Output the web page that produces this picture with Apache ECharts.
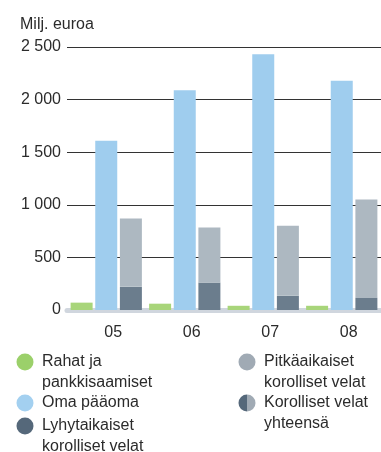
<!DOCTYPE html>
<html>
<head>
<meta charset="utf-8">
<script src="https://cdn.jsdelivr.net/npm/echarts@6/dist/echarts.min.js"></script>
<style>
  html, body { margin: 0; padding: 0; background: #fff; }
  #chart { width: 381px; height: 452px; }
</style>
</head>
<body>
<div id="chart"></div>
<script>
// Vuodet ja tase-erät, milj. euroa
const years = ['05', '06', '07', '08'];
const rahat = [70, 60, 40, 40];            // Rahat ja pankkisaamiset
const omaPaaoma = [1610, 2090, 2430, 2180]; // Oma pääoma
const lyhyt = [220, 260, 135, 115];        // Lyhytaikaiset korolliset velat
const pitka = [650, 525, 665, 935];        // Pitkäaikaiset korolliset velat
const yTicks = [0, 500, 1000, 1500, 2000, 2500];

const seriesNames = [
  'Rahat ja\npankkisaamiset',
  'Oma pääoma',
  'Lyhytaikaiset\nkorolliset velat',
  'Pitkäaikaiset\nkorolliset velat'
];
const totalName = 'Korolliset velat\nyhteensä';

const barColors = ['#a8d57a', '#9fcdee', '#6b7d8d', '#adb8c1'];
const iconColors = ['#9bd06a', '#a3d0f0', '#55687a', '#a0aab4'];
const FONT = '"Liberation Sans", Arial, sans-serif';
const TEXT = '#2b2b2b';

function fmt(v) {
  return String(v).replace(/\B(?=(\d{3})+(?!\d))/g, ' ');
}

// Legend drawn as two columns of round swatches with wrapped labels
const legendSlots = [
  { x: 25, y: 362, col: 0 },
  { x: 25, y: 403, col: 1 },
  { x: 25, y: 426, col: 2 },
  { x: 247, y: 362, col: 3 }
];
const graphic = [];
legendSlots.forEach(function (s) {
  graphic.push({
    type: 'circle',
    shape: { cx: s.x, cy: s.y, r: 8.5 },
    style: { fill: iconColors[s.col] }
  });
  graphic.push({
    type: 'text',
    x: s.x + 17, y: s.y - 10.5,
    style: {
      text: seriesNames[s.col], font: '16px ' + FONT, fill: TEXT,
      lineHeight: 21, verticalAlign: 'top', align: 'left'
    }
  });
});
graphic.push({
  type: 'sector',
  shape: { cx: 247, cy: 403, r: 8.5, startAngle: Math.PI / 2, endAngle: Math.PI * 3 / 2 },
  style: { fill: iconColors[2] }
});
graphic.push({
  type: 'sector',
  shape: { cx: 247, cy: 403, r: 8.5, startAngle: -Math.PI / 2, endAngle: Math.PI / 2 },
  style: { fill: iconColors[3] }
});
graphic.push({
  type: 'text',
  x: 264, y: 403 - 10.5,
  style: {
    text: totalName, font: '16px ' + FONT, fill: TEXT,
    lineHeight: 21, verticalAlign: 'top', align: 'left'
  }
});

const chart = echarts.init(document.getElementById('chart'), null, { renderer: 'canvas' });
chart.setOption({
  animation: false,
  textStyle: { fontFamily: FONT },
  title: {
    text: 'Milj. euroa', left: 15, top: 12,
    textStyle: { fontSize: 16, fontWeight: 'normal', color: TEXT, fontFamily: FONT }
  },
  grid: { left: 67, top: 47, width: 320, height: 263 },
  xAxis: {
    type: 'category',
    data: years,
    offset: 2.5,
    axisLine: { show: true, lineStyle: { color: '#d0d6de', width: 5 } },
    axisTick: { show: false },
    axisLabel: { fontSize: 16, color: TEXT, margin: 12, padding: [0, 0, 0, 14] }
  },
  yAxis: {
    type: 'value',
    min: yTicks[0],
    max: yTicks[yTicks.length - 1],
    interval: yTicks[1] - yTicks[0],
    axisLine: { show: false },
    axisTick: { show: false },
    axisLabel: { fontSize: 16, color: TEXT, margin: 6, formatter: fmt },
    splitLine: { lineStyle: { color: '#333333', width: 1 } }
  },
  graphic: graphic,
  series: [
    { name: seriesNames[0], type: 'bar', data: rahat, barWidth: 22, barGap: '12%',
      itemStyle: { color: barColors[0] } },
    { name: seriesNames[1], type: 'bar', data: omaPaaoma, barWidth: 22, barGap: '12%',
      itemStyle: { color: barColors[1] } },
    { name: seriesNames[2], type: 'bar', data: lyhyt, stack: 'velat', barWidth: 22, barGap: '12%',
      itemStyle: { color: barColors[2] } },
    { name: seriesNames[3], type: 'bar', data: pitka, stack: 'velat', barWidth: 22, barGap: '12%',
      itemStyle: { color: barColors[3] } }
  ]
});
</script>
</body>
</html>
